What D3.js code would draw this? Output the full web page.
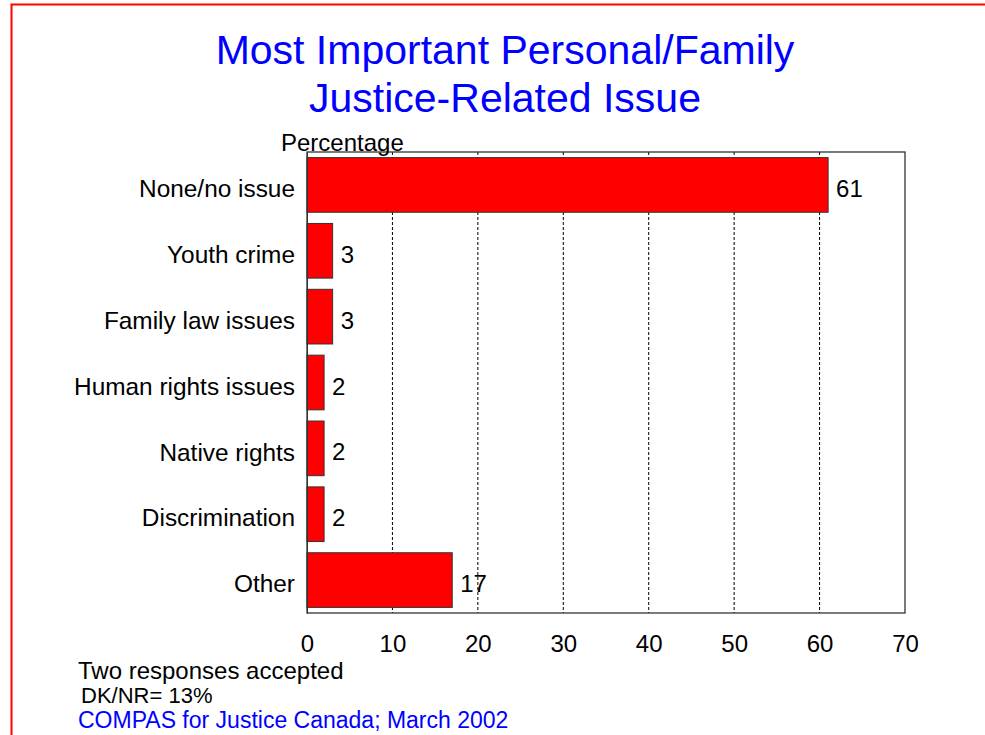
<!DOCTYPE html>
<html>
<head>
<meta charset="utf-8">
<script src="https://cdn.jsdelivr.net/npm/d3@7"></script>
<style>
  html, body { margin: 0; padding: 0; background: #fff; }
  svg { display: block; font-family: "Liberation Sans", Arial, sans-serif; }
</style>
</head>
<body>
<svg id="chart" width="985" height="735"></svg>
<script>
// Survey categories and their percentages
const categories = ["None/no issue", "Youth crime", "Family law issues", "Human rights issues", "Native rights", "Discrimination", "Other"];
const values = [61, 3, 3, 2, 2, 2, 17];
const xTicks = [0, 10, 20, 30, 40, 50, 60, 70];
const titleLines = ["Most Important Personal/Family", "Justice-Related Issue"];
const notes = ["Two responses accepted", "DK/NR= 13%"];
const source = "COMPAS for Justice Canada; March 2002";

const FONT = "Liberation Sans, Arial, sans-serif";
const svg = d3.select("#chart");

// Outer frame
svg.append("rect")
  .attr("x", 11.5).attr("y", 4.5)
  .attr("width", 1000).attr("height", 1000)
  .attr("fill", "none").attr("stroke", "#ff0000").attr("stroke-width", 2);

// Title
svg.append("g").selectAll("text")
  .data(titleLines).join("text")
  .attr("x", 505).attr("y", (d, i) => 64 + i * 48)
  .attr("text-anchor", "middle")
  .attr("font-size", 41).attr("fill", "#0000ff")
  .text(d => d);

const plot = { left: 307, top: 152, right: 905, bottom: 613 };

const x = d3.scaleLinear().domain([0, 70]).range([plot.left, plot.right]);
const y = d3.scaleBand().domain(categories).range([plot.top, plot.bottom]).paddingInner(0.17).paddingOuter(0.085);

// Dashed gridlines
svg.append("g").selectAll("line")
  .data(xTicks.filter(t => t > 0 && t < 70)).join("line")
  .attr("x1", d => x(d)).attr("x2", d => x(d))
  .attr("y1", plot.top).attr("y2", plot.bottom)
  .attr("stroke", "#000").attr("stroke-width", 1)
  .attr("stroke-dasharray", "3,2");

// Plot frame
svg.append("rect")
  .attr("x", plot.left).attr("y", plot.top)
  .attr("width", plot.right - plot.left).attr("height", plot.bottom - plot.top)
  .attr("fill", "none").attr("stroke", "#333").attr("stroke-width", 1.3);

// Bars
svg.append("g").selectAll("rect")
  .data(categories).join("rect")
  .attr("x", x(0))
  .attr("y", d => y(d))
  .attr("width", (d, i) => x(values[i]) - x(0))
  .attr("height", y.bandwidth())
  .attr("fill", "#ff0000").attr("stroke", "#333").attr("stroke-width", 1);

// Value labels
svg.append("g").selectAll("text")
  .data(categories).join("text")
  .attr("x", (d, i) => x(values[i]) + 8)
  .attr("y", d => y(d) + y.bandwidth() / 2 + 12)
  .attr("font-size", 24).attr("fill", "#000")
  .text((d, i) => values[i]);

// Category axis
const yAxis = svg.append("g")
  .attr("transform", `translate(${plot.left},0)`)
  .call(d3.axisLeft(y).tickSize(0).tickPadding(12));
yAxis.select(".domain").attr("stroke", "#333");
yAxis.selectAll("text").attr("font-size", 24.4).attr("fill", "#000")
  .attr("font-family", FONT)
  .attr("dy", "0.5em");

// Value axis
const xAxis = svg.append("g")
  .attr("transform", `translate(0,${plot.bottom})`)
  .call(d3.axisBottom(x).tickValues(xTicks).tickSize(0).tickPadding(0));
xAxis.select(".domain").remove();
xAxis.selectAll("text").attr("font-size", 24).attr("fill", "#000")
  .attr("font-family", FONT)
  .attr("dy", null).attr("y", 39);

// Axis unit label
svg.append("text")
  .attr("x", 281).attr("y", 151)
  .attr("font-size", 24).attr("fill", "#000")
  .text("Percentage");

// Footnotes
svg.append("text").attr("x", 78).attr("y", 679)
  .attr("font-size", 24).attr("fill", "#000").text(notes[0]);
svg.append("text").attr("x", 81).attr("y", 703)
  .attr("font-size", 22).attr("fill", "#000").text(notes[1]);
svg.append("text").attr("x", 78).attr("y", 728)
  .attr("font-size", 23).attr("fill", "#0000ff").text(source);
</script>
</body>
</html>
